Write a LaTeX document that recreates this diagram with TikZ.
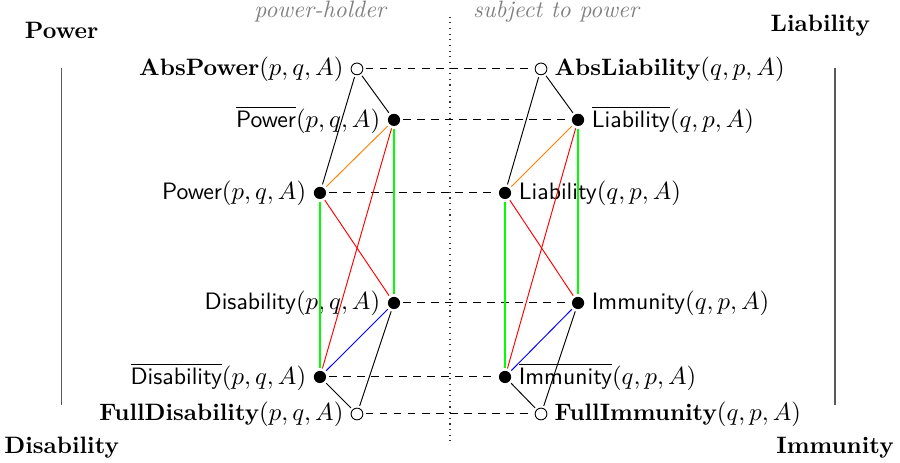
\documentclass[tikz,border=0pt]{standalone}
\usepackage{amsmath,amssymb}
\usepackage{tikz}
\newcommand{\rl}[1]{\textsf{#1}}
\newcommand{\bl}[1]{\overline{\textsf{#1}}}

\begin{document}
\fontsize{10.5pt}{12.6pt}\selectfont
\begin{tikzpicture}[
    full/.style={circle, fill=black, minimum size=5.4pt, inner sep=0pt, outer sep=1.2pt},
    hollow/.style={circle, draw=black, fill=white, minimum size=5.2pt, inner sep=0pt, outer sep=1.2pt},
    link/.style={line width=0.42pt},
    vert/.style={line width=0.5pt, green},
    corr/.style={line width=0.45pt, dash pattern=on 3.5pt off 2.7pt},
    corner/.style={font=\bfseries},
    side/.style={gray, font=\itshape},
    every label/.style={inner sep=2pt}
  ]
    \useasboundingbox (-7.00,-3.60) rectangle (7.00,3.60);
    % power-holder side (left) and subject side (right)
    \node[side] (holder) at (-2.02,3.42) {power-holder};
    \node[side] (subject) at (1.65,3.42) {subject to power};
    \coordinate (top) at (0,3.34);
    \coordinate (bot) at (0,-3.26);
    \draw[dotted, line width=0.5pt, black!80] (top) -- (bot);
    % the two scales at the margins
    \node[corner] (cP) at (-6.04,3.12) {Power};
    \node[corner] (cD) at (-6.04,-3.36) {Disability};
    \node[corner] (cL) at (5.76,3.20) {Liability};
    \node[corner] (cI) at (5.99,-3.36) {Immunity};
    \coordinate (lt) at (-6.04,2.54);
    \coordinate (lb) at (-6.04,-2.70);
    \coordinate (rt) at (5.99,2.54);
    \coordinate (rb) at (5.99,-2.70);
    \draw[black!65, line width=0.6pt] (lt) -- (lb);
    \draw[black!65, line width=0.6pt] (rt) -- (rb);
    % left lattice
    \node[hollow, label=left:{$\textbf{AbsPower}(p,q,A)$}]        (absP)  at (-1.447, 2.528) {};
    \node[full,   label=left:{$\bl{Power}(p,q,A)$}]               (barP)  at (-0.871, 1.735) {};
    \node[full,   label=left:{$\rl{Power}(p,q,A)$}]               (P)     at (-2.023, 0.599) {};
    \node[full,   label=left:{$\rl{Disability}(p,q,A)$}]          (D)     at (-0.871,-1.113) {};
    \node[full,   label=left:{$\bl{Disability}(p,q,A)$}]          (barD)  at (-2.023,-2.264) {};
    \node[hollow, label=left:{$\textbf{FullDisability}(p,q,A)$}]  (fullD) at (-1.447,-2.840) {};
    % right lattice
    \node[hollow, label=right:{$\textbf{AbsLiability}(q,p,A)$}]   (absL)  at (1.416, 2.528) {};
    \node[full,   label=right:{$\bl{Liability}(q,p,A)$}]          (barL)  at (1.992, 1.735) {};
    \node[full,   label=right:{$\rl{Liability}(q,p,A)$}]          (L)     at (0.856, 0.599) {};
    \node[full,   label=right:{$\rl{Immunity}(q,p,A)$}]           (I)     at (1.992,-1.113) {};
    \node[full,   label=right:{$\bl{Immunity}(q,p,A)$}]           (barI)  at (0.856,-2.264) {};
    \node[hollow, label=right:{$\textbf{FullImmunity}(q,p,A)$}]   (fullI) at (1.416,-2.840) {};
    % correlatives across the divide
    \foreach \a/\b in {absP/absL, barP/barL, P/L, D/I, barD/barI, fullD/fullI}
      \draw[corr] (\a) -- (\b);
    % order inside each side
    \foreach \top/\up/\lo/\dn/\bar/\bot in {absP/barP/P/D/barD/fullD, absL/barL/L/I/barI/fullI} {
      \draw[link] (\top) -- (\up);
      \draw[link] (\top) -- (\lo);
      \draw[link, orange] (\up) -- (\lo);
      \draw[vert] (\up) -- (\dn);
      \draw[link, red] (\up) -- (\bar);
      \draw[link, red] (\lo) -- (\dn);
      \draw[vert] (\lo) -- (\bar);
      \draw[link, blue] (\dn) -- (\bar);
      \draw[link] (\dn) -- (\bot);
      \draw[link] (\bar) -- (\bot);
    }
\end{tikzpicture}
\end{document}
